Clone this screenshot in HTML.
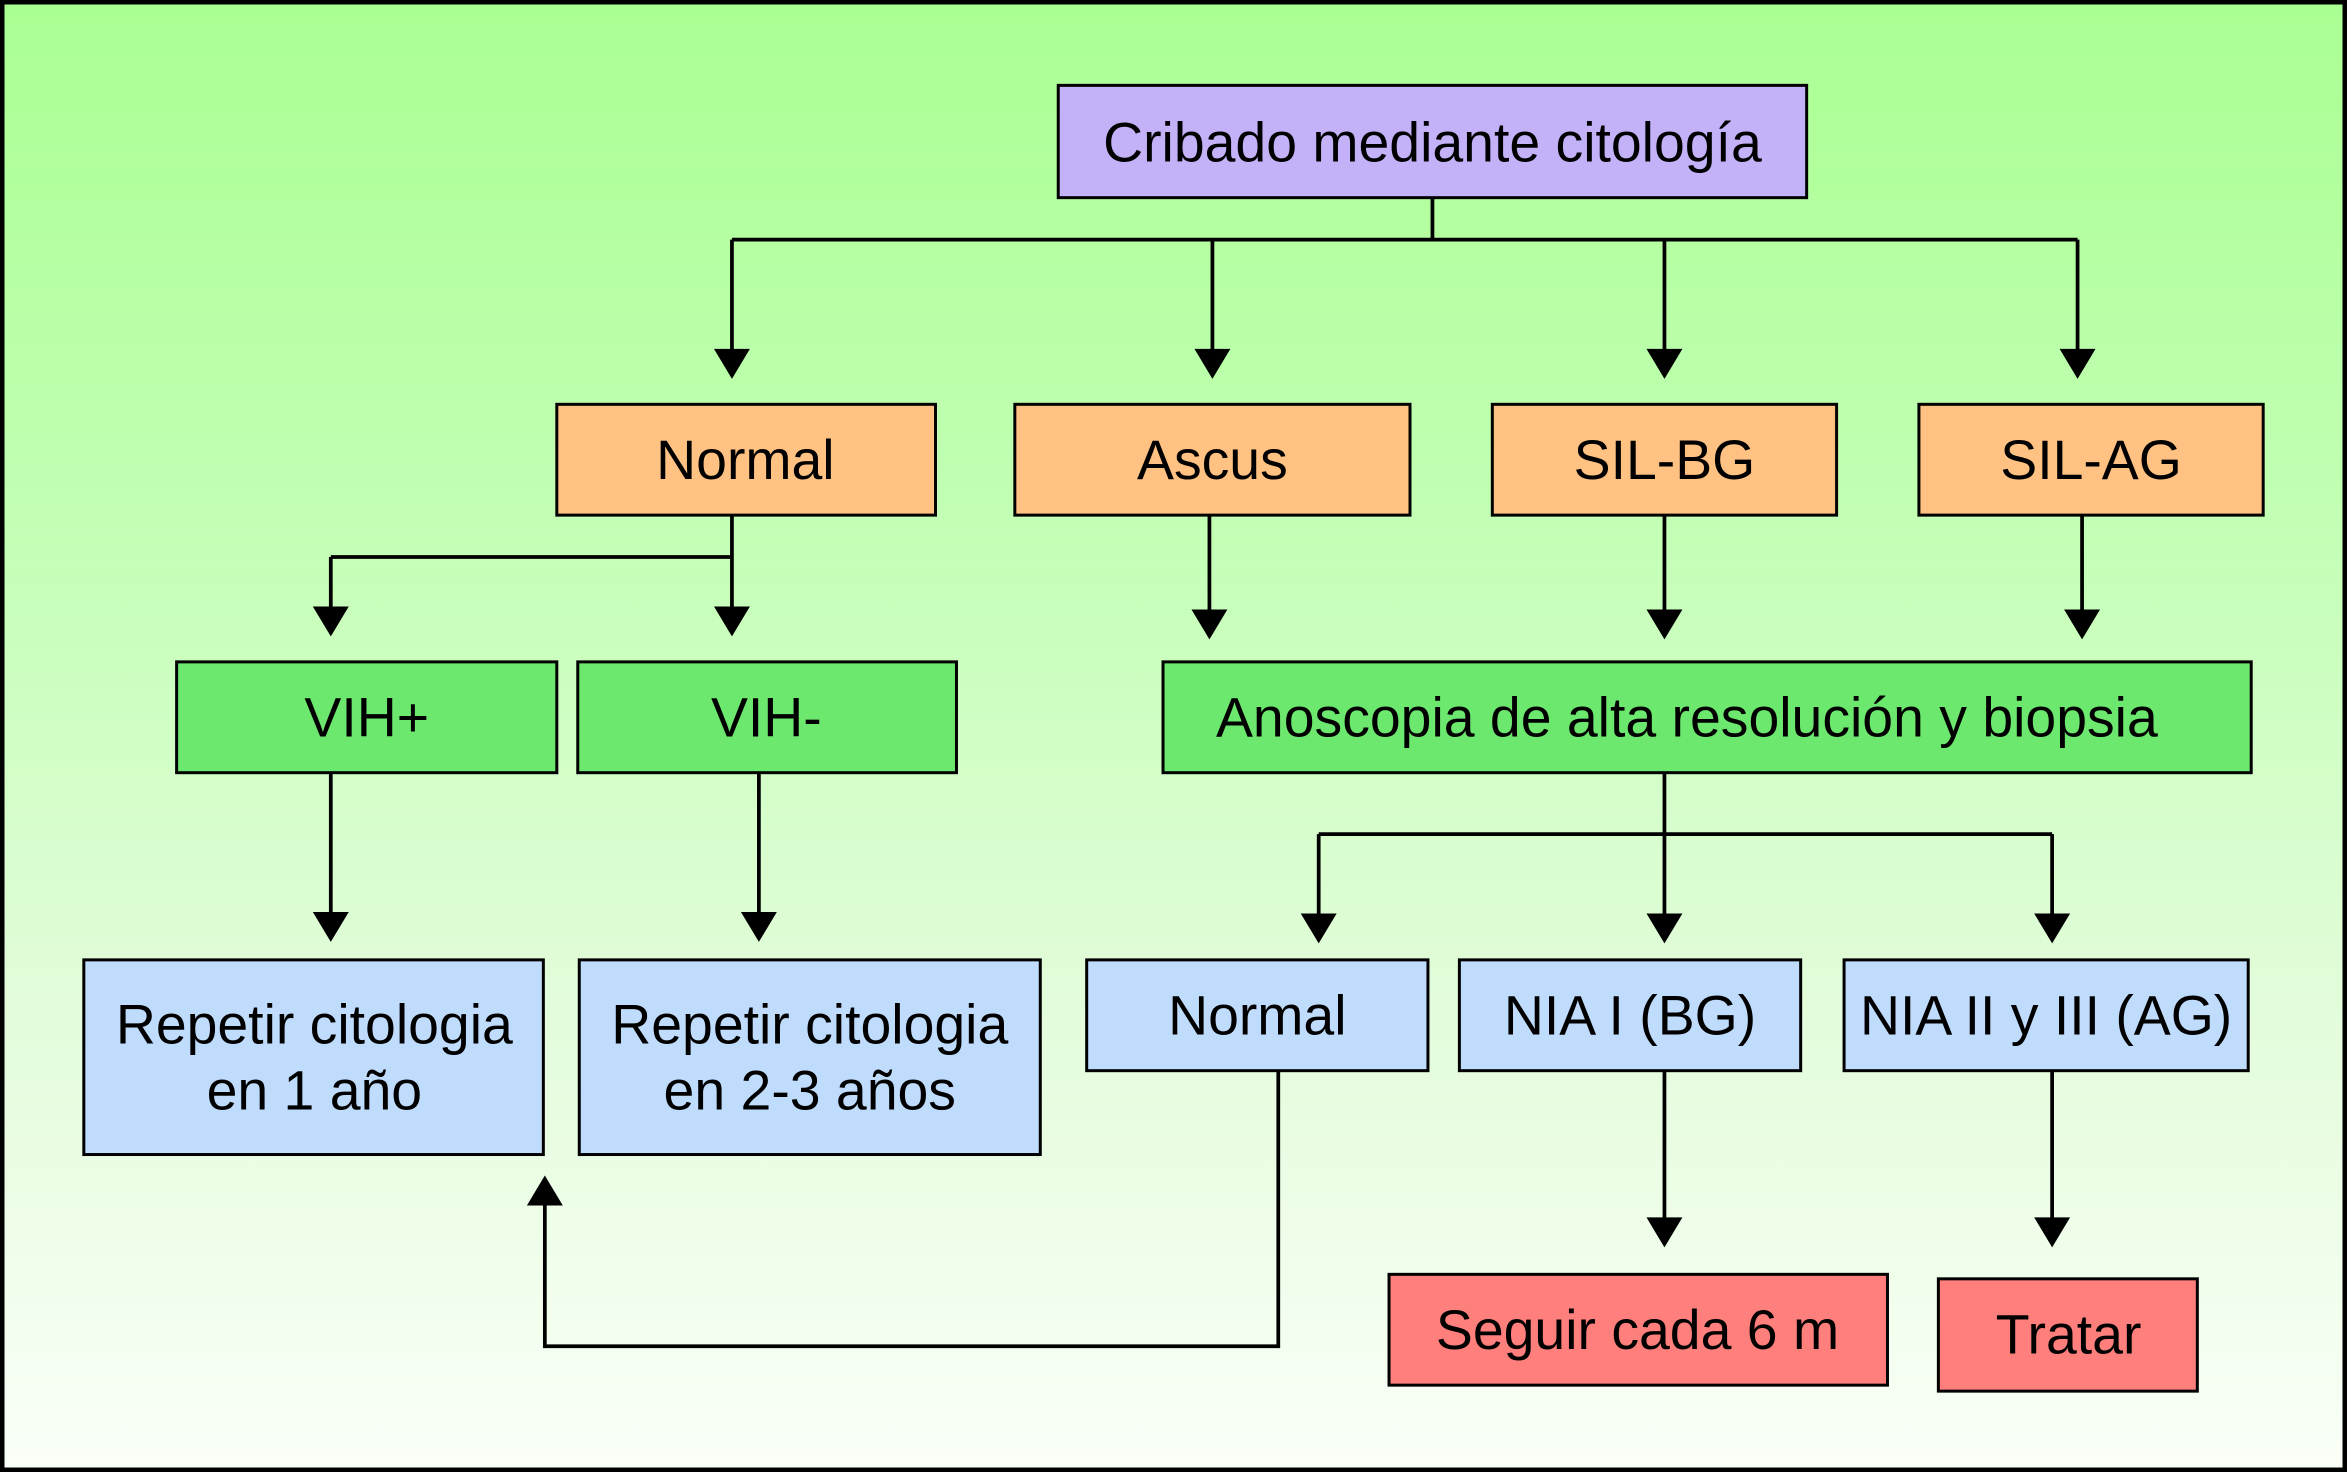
<!DOCTYPE html>
<html><head><meta charset="utf-8"><style>
html,body{margin:0;padding:0;background:#fff;}
svg{display:block;}
text{font-family:"Liberation Sans",Arial,sans-serif;font-size:37px;fill:#000;text-anchor:middle;}
</style></head><body>
<svg width="2347" height="1472" viewBox="0 0 1568 983" preserveAspectRatio="none" xmlns="http://www.w3.org/2000/svg">
<defs>
<linearGradient id="bg" x1="0" y1="0" x2="0" y2="1">
<stop offset="0" stop-color="#aaff92"/>
<stop offset="0.35" stop-color="#c2ffb4"/>
<stop offset="0.7" stop-color="#e4fcdc"/>
<stop offset="1" stop-color="#fafff8"/>
</linearGradient>
</defs>
<rect x="1.5" y="1.5" width="1565" height="980" fill="url(#bg)" stroke="#000" stroke-width="3"/>
<g fill="none" stroke="#000" stroke-width="2.5">
<path d="M957,132 V160 M489,160 H1388"/>
<path d="M489,160 V240 M810,160 V240 M1112,160 V240 M1388,160 V240"/>
<path d="M489,344 V372 M221,372 H489 M221,372 V412 M489,372 V412"/>
<path d="M808,344 V414 M1112,344 V414 M1391,344 V414"/>
<path d="M221,516 V616 M507,516 V616"/>
<path d="M1112,516 V557 M881,557 H1371 M881,557 V617 M1112,557 V617 M1371,557 V617"/>
<path d="M854,715 V899 H364 V798"/>
<path d="M1112,715 V820 M1371,715 V820"/>
</g>
<g fill="#000">
<polygon points="477,233 501,233 489,253"/>
<polygon points="798,233 822,233 810,253"/>
<polygon points="1100,233 1124,233 1112,253"/>
<polygon points="1376,233 1400,233 1388,253"/>
<polygon points="209,405 233,405 221,425"/>
<polygon points="477,405 501,405 489,425"/>
<polygon points="796,407 820,407 808,427"/>
<polygon points="1100,407 1124,407 1112,427"/>
<polygon points="1379,407 1403,407 1391,427"/>
<polygon points="209,609 233,609 221,629"/>
<polygon points="495,609 519,609 507,629"/>
<polygon points="869,610 893,610 881,630"/>
<polygon points="1100,610 1124,610 1112,630"/>
<polygon points="1359,610 1383,610 1371,630"/>
<polygon points="1100,813 1124,813 1112,833"/>
<polygon points="1359,813 1383,813 1371,833"/>
<polygon points="352,805 376,805 364,785"/>
</g>
<g stroke="#000" stroke-width="2">
<rect x="707" y="57" width="500" height="75" fill="#c4b2f8"/>
<rect x="372" y="270" width="253" height="74" fill="#ffc282"/>
<rect x="678" y="270" width="264" height="74" fill="#ffc282"/>
<rect x="997" y="270" width="230" height="74" fill="#ffc282"/>
<rect x="1282" y="270" width="230" height="74" fill="#ffc282"/>
<rect x="118" y="442" width="254" height="74" fill="#6ce86e"/>
<rect x="386" y="442" width="253" height="74" fill="#6ce86e"/>
<rect x="777" y="442" width="727" height="74" fill="#6ce86e"/>
<rect x="56" y="641" width="307" height="130" fill="#c0dcfc"/>
<rect x="387" y="641" width="308" height="130" fill="#c0dcfc"/>
<rect x="726" y="641" width="228" height="74" fill="#c0dcfc"/>
<rect x="975" y="641" width="228" height="74" fill="#c0dcfc"/>
<rect x="1232" y="641" width="270" height="74" fill="#c0dcfc"/>
<rect x="928" y="851" width="333" height="74" fill="#ff7f7d"/>
<rect x="1295" y="854" width="173" height="75" fill="#ff7f7d"/>
</g>
<text x="957" y="108">Cribado mediante citología</text>
<text x="498" y="320">Normal</text>
<text x="810" y="320">Ascus</text>
<text x="1112" y="320">SIL-BG</text>
<text x="1397" y="320">SIL-AG</text>
<text x="245" y="492">VIH+</text>
<text x="512" y="492">VIH-</text>
<text x="1127" y="492">Anoscopia de alta resolución y biopsia</text>
<text x="210" y="697">Repetir citologia</text>
<text x="210" y="741">en 1 año</text>
<text x="541" y="697">Repetir citologia</text>
<text x="541" y="741">en 2-3 años</text>
<text x="840" y="691">Normal</text>
<text x="1089" y="691">NIA I (BG)</text>
<text x="1367" y="691">NIA II y III (AG)</text>
<text x="1094" y="901">Seguir cada 6 m</text>
<text x="1382" y="904">Tratar</text>
</svg>
</body></html>
